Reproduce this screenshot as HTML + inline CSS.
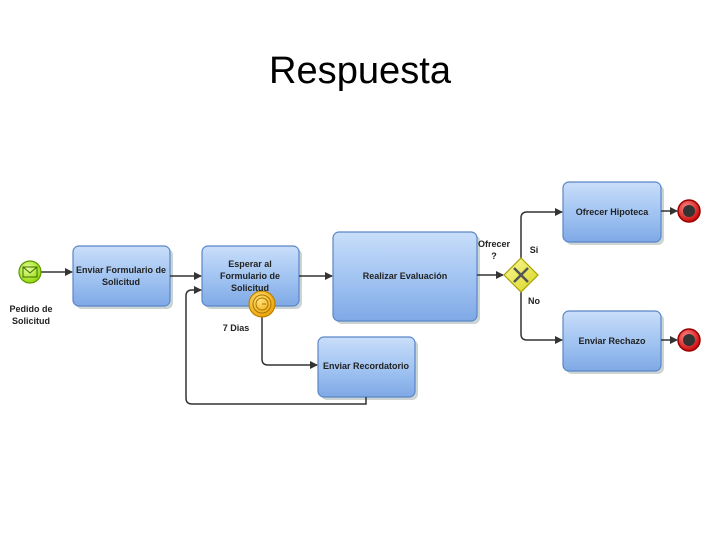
<!DOCTYPE html>
<html><head><meta charset="utf-8"><style>
body{margin:0;background:#fff;width:720px;height:540px;overflow:hidden}
svg text{font-family:"Liberation Sans",sans-serif}
</style></head><body>
<svg width="720" height="540" viewBox="0 0 720 540" xmlns="http://www.w3.org/2000/svg">
<defs>
<linearGradient id="tg" x1="0" y1="0" x2="0" y2="1">
<stop offset="0" stop-color="#c9defa"/><stop offset="0.5" stop-color="#a3c5f2"/><stop offset="1" stop-color="#7fa9e6"/></linearGradient>
<radialGradient id="gs" cx="0.4" cy="0.35" r="0.7"><stop offset="0" stop-color="#e8ff9a"/><stop offset="1" stop-color="#8fd400"/></radialGradient>
<radialGradient id="rd" cx="0.4" cy="0.35" r="0.7"><stop offset="0" stop-color="#ff8a8a"/><stop offset="1" stop-color="#c40000"/></radialGradient>
<radialGradient id="yl" cx="0.4" cy="0.35" r="0.7"><stop offset="0" stop-color="#ffe47a"/><stop offset="1" stop-color="#e8a000"/></radialGradient>
<linearGradient id="gw" x1="0" y1="0" x2="1" y2="1"><stop offset="0" stop-color="#fbfb9a"/><stop offset="1" stop-color="#d8d420"/></linearGradient>
<marker id="a" markerWidth="8" markerHeight="8" refX="7" refY="4" orient="auto" markerUnits="userSpaceOnUse"><path d="M0,0 L8,4 L0,8 z" fill="#333"/></marker>
</defs>
<text x="360" y="83" font-size="38" text-anchor="middle" fill="#000" textLength="182" lengthAdjust="spacingAndGlyphs">Respuesta</text>
<g fill="#9aa" opacity="0.5">
<rect x="76" y="249" width="97" height="60" rx="6"/><rect x="205" y="249" width="97" height="60" rx="6"/>
<rect x="336" y="235" width="144" height="89" rx="6"/><rect x="566" y="185" width="98" height="60" rx="6"/>
<rect x="566" y="314" width="98" height="60" rx="6"/><rect x="321" y="340" width="97" height="60" rx="6"/>
</g>
<g fill="url(#tg)" stroke="#5a86c8" stroke-width="1.2">
<rect x="73" y="246" width="97" height="60" rx="6"/><rect x="202" y="246" width="97" height="60" rx="6"/>
<rect x="333" y="232" width="144" height="89" rx="6"/><rect x="563" y="182" width="98" height="60" rx="6"/>
<rect x="563" y="311" width="98" height="60" rx="6"/><rect x="318" y="337" width="97" height="60" rx="6"/>
</g>
<g fill="none" stroke="#333" stroke-width="1.5">
<path d="M41,272 H72" marker-end="url(#a)"/>
<path d="M170,276 H201" marker-end="url(#a)"/>
<path d="M299,276 H332" marker-end="url(#a)"/>
<path d="M477,275 H503" marker-end="url(#a)"/>
<path d="M521,258 V218 Q521,212 527,212 H562" marker-end="url(#a)"/>
<path d="M521,292 V334 Q521,340 527,340 H562" marker-end="url(#a)"/>
<path d="M661,211 H677" marker-end="url(#a)"/>
<path d="M661,340 H677" marker-end="url(#a)"/>
<path d="M262,317 V359 Q262,365 268,365 H317" marker-end="url(#a)"/>
<path d="M366,397 V404 H192 Q186,404 186,398 V296 Q186,290 192,290 H201" marker-end="url(#a)"/>
</g>
<circle cx="30" cy="272" r="11" fill="url(#gs)" stroke="#5a9a00" stroke-width="1.2"/>
<rect x="23" y="267" width="14" height="10" fill="none" stroke="#3a7000" stroke-width="1"/>
<path d="M23,267 L30,273 L37,267" fill="none" stroke="#3a7000" stroke-width="1"/>
<circle cx="262" cy="304" r="13" fill="url(#yl)" stroke="#c08000" stroke-width="1.2"/>
<circle cx="262" cy="304" r="9" fill="none" stroke="#b07000" stroke-width="1"/>
<circle cx="262" cy="304" r="6" fill="none" stroke="#b07000" stroke-width="1"/>
<path d="M262,304 H266" stroke="#b07000"/>
<polygon points="521,258 538,275 521,292 504,275" fill="url(#gw)" stroke="#a8a000" stroke-width="1.2"/>
<path d="M514,268 L528,282 M528,268 L514,282" stroke="#555" stroke-width="2.5"/>
<g><circle cx="689" cy="211" r="11" fill="url(#rd)" stroke="#900" stroke-width="1.5"/><circle cx="689" cy="211" r="6" fill="#333"/></g>
<g><circle cx="689" cy="340" r="11" fill="url(#rd)" stroke="#900" stroke-width="1.5"/><circle cx="689" cy="340" r="6" fill="#333"/></g>
<g font-size="9" font-weight="bold" fill="#222" text-anchor="middle">
<text x="121" y="273">Enviar Formulario de</text><text x="121" y="285">Solicitud</text>
<text x="250" y="267">Esperar al</text><text x="250" y="279">Formulario de</text><text x="250" y="291">Solicitud</text>
<text x="405" y="279">Realizar Evaluación</text>
<text x="612" y="215">Ofrecer Hipoteca</text>
<text x="612" y="344">Enviar Rechazo</text>
<text x="366" y="369">Enviar Recordatorio</text>
<text x="31" y="312">Pedido de</text><text x="31" y="324">Solicitud</text>
<text x="236" y="331">7 Dias</text>
<text x="494" y="247">Ofrecer</text><text x="494" y="259">?</text>
<text x="534" y="253">Si</text><text x="534" y="304">No</text>
</g>
</svg>
</body></html>
